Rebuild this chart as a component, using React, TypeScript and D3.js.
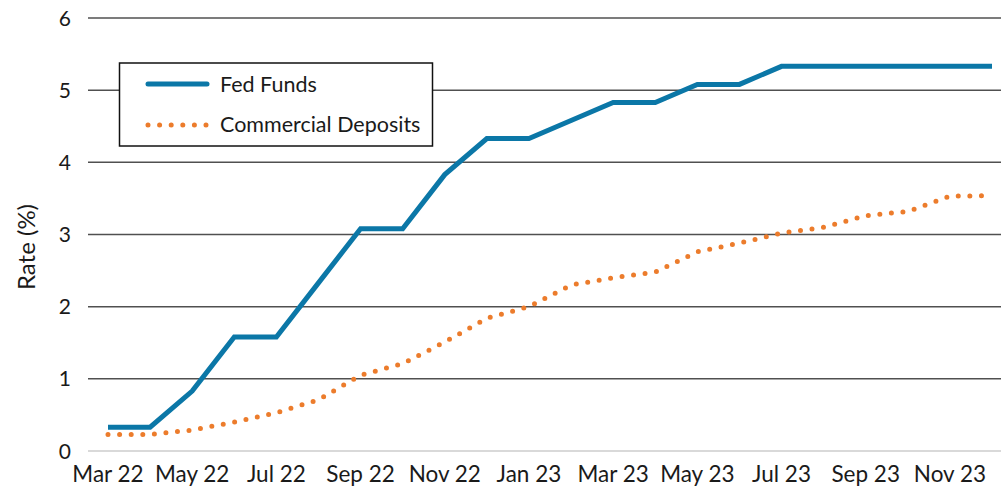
import { useMemo } from "react";
import * as d3 from "d3";

const months = [
  "Mar 22", "Apr 22", "May 22", "Jun 22", "Jul 22", "Aug 22", "Sep 22", "Oct 22",
  "Nov 22", "Dec 22", "Jan 23", "Feb 23", "Mar 23", "Apr 23", "May 23", "Jun 23",
  "Jul 23", "Aug 23", "Sep 23", "Oct 23", "Nov 23", "Dec 23",
];
const fedFunds = [
  0.33, 0.33, 0.83, 1.58, 1.58, 2.33, 3.08, 3.08, 3.83, 4.33, 4.33, 4.58,
  4.83, 4.83, 5.08, 5.08, 5.33, 5.33, 5.33, 5.33, 5.33, 5.33,
];
const commercialDeposits = [
  0.23, 0.23, 0.29, 0.4, 0.53, 0.71, 1.05, 1.21, 1.51, 1.84, 2.0, 2.3,
  2.4, 2.48, 2.76, 2.88, 3.02, 3.1, 3.26, 3.32, 3.53, 3.54,
];
const yTicks = [0, 1, 2, 3, 4, 5, 6];
const tickLabels = months.filter((_, i) => i % 2 === 0);

const W = 1001;
const H = 487;
const FONT = "Lato, 'Open Sans', sans-serif";
const BLUE = "#0b77a7";
const ORANGE = "#ec7c2c";
const TEXT = "#1a1a1a";

export default function App() {
  const x = useMemo(() => d3.scalePoint<string>().domain(months).range([108, 992]), []);
  const y = useMemo(() => d3.scaleLinear().domain([0, 6]).range([451, 18]), []);

  const line = d3
    .line<number>()
    .x((_, i) => x(months[i]) as number)
    .y((d) => y(d));

  return (
    <svg width={W} height={H} style={{ position: "absolute", left: 0, top: 0 }} fontFamily={FONT}>
      <rect width={W} height={H} fill="#fff" />
      {/* gridlines + y ticks */}
      {yTicks.map((t) => (
        <g key={t}>
          <line
            x1={88}
            x2={W}
            y1={y(t)}
            y2={y(t)}
            stroke={t === 0 ? "#d9d9d9" : "#505050"}
            strokeWidth={t === 0 ? 2 : 1.5}
          />
          <text x={71} y={y(t)} dy="0.36em" textAnchor="end" fontSize={21} fill={TEXT}>
            {t}
          </text>
        </g>
      ))}
      {tickLabels.map((m) => (
        <text key={m} x={x(m)} y={482} textAnchor="middle" fontSize={22.5} fill={TEXT}>
          {m}
        </text>
      ))}
      <text
        transform={`translate(35,247) rotate(-90)`}
        textAnchor="middle"
        fontSize={24}
        fill={TEXT}
      >
        Rate (%)
      </text>

      <path
        d={line(commercialDeposits) || ""}
        fill="none"
        stroke={ORANGE}
        strokeWidth={5}
        strokeLinecap="round"
        strokeDasharray="0 11.6"
      />
      <path d={line(fedFunds) || ""} fill="none" stroke={BLUE} strokeWidth={5} />

      {/* legend */}
      <rect x={119.5} y={63} width={313} height={83} fill="#fff" stroke="#111" strokeWidth={1.5} />
      <line x1={148} x2={207} y1={84} y2={84} stroke={BLUE} strokeWidth={5} strokeLinecap="round" />
      <text x={220} y={84} dy="0.36em" fontSize={21.5} fill={TEXT}>
        Fed Funds
      </text>
      <line
        x1={148}
        x2={207}
        y1={125}
        y2={125}
        stroke={ORANGE}
        strokeWidth={5}
        strokeLinecap="round"
        strokeDasharray="0 11.6"
      />
      <text x={220} y={124} dy="0.36em" fontSize={21.5} fill={TEXT}>
        Commercial Deposits
      </text>
    </svg>
  );
}
